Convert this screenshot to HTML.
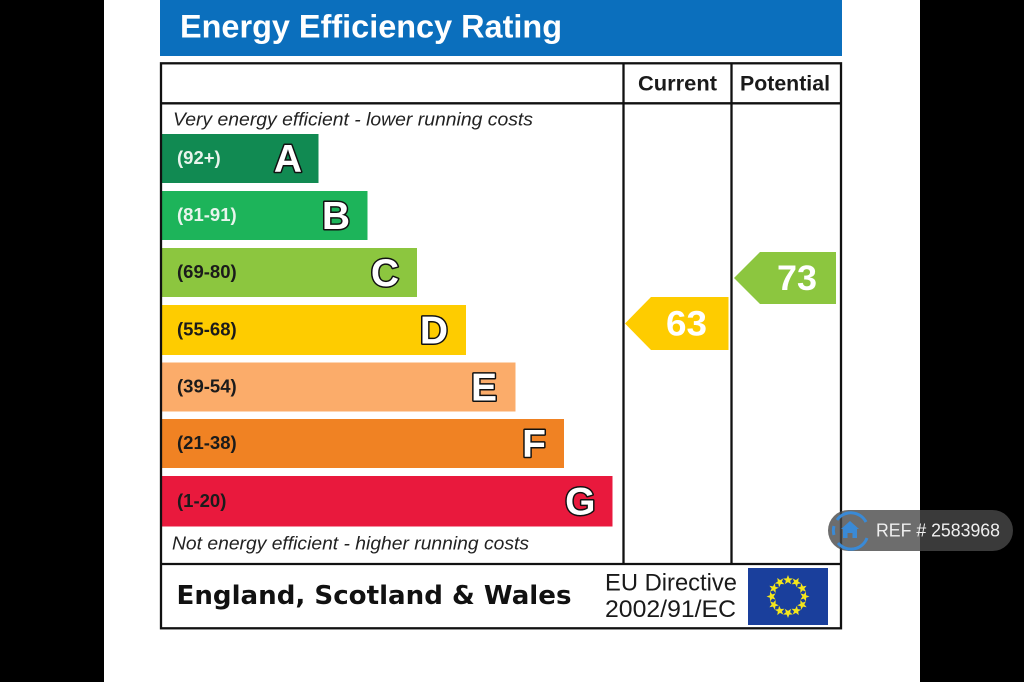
<!DOCTYPE html>
<html>
<head>
<meta charset="utf-8">
<style>
  html, body { margin:0; padding:0; background:#000; }
  body { width:1024px; height:682px; overflow:hidden; }
  svg { display:block; }
</style>
</head>
<body>
<svg width="1024" height="682" viewBox="0 0 1024 682" xmlns="http://www.w3.org/2000/svg">
  <!-- background -->
  <rect x="0" y="0" width="1024" height="682" fill="#000"/>
  <rect x="104" y="0" width="816" height="682" fill="#fff"/>

  <!-- title bar -->
  <rect x="160" y="0" width="682" height="56" fill="#0b6fbd"/>
  <text x="180" y="37.5" font-family="'Liberation Sans', Arial, sans-serif" font-weight="bold" font-size="32" fill="#fff" textLength="382" lengthAdjust="spacingAndGlyphs">Energy Efficiency Rating</text>

  <!-- bars -->
  <g font-family="'Liberation Sans', Arial, sans-serif" font-weight="bold">
    <rect x="162" y="134" width="156.5" height="49" fill="#118a52"/>
    <rect x="162" y="191" width="205.5" height="49" fill="#1db45a"/>
    <rect x="162" y="248" width="255" height="49" fill="#8cc63f"/>
    <rect x="162" y="305" width="304" height="50" fill="#fecc00"/>
    <rect x="162" y="362.5" width="353.5" height="49" fill="#fbac6a"/>
    <rect x="162" y="419" width="402" height="49" fill="#f08223"/>
    <rect x="162" y="476" width="450.5" height="50.5" fill="#e9193d"/>

    <g font-size="18.5">
      <text x="177" y="164" fill="#e8f4ec">(92+)</text>
      <text x="177" y="221" fill="#e8f4ec">(81-91)</text>
      <text x="177" y="278" fill="#1b1b1b">(69-80)</text>
      <text x="177" y="335.5" fill="#1b1b1b">(55-68)</text>
      <text x="177" y="392.5" fill="#1b1b1b">(39-54)</text>
      <text x="177" y="449" fill="#1b1b1b">(21-38)</text>
      <text x="177" y="507" fill="#1b1b1b">(1-20)</text>
    </g>

    <g font-size="39" fill="#fff" stroke="#111" stroke-width="3" paint-order="stroke" text-anchor="end" stroke-linejoin="round">
      <text x="302" y="172">A</text>
      <text x="350" y="229">B</text>
      <text x="399" y="286">C</text>
      <text x="448" y="343.5">D</text>
      <text x="497" y="400.5">E</text>
      <text x="546" y="457">F</text>
      <text x="595.5" y="514.5">G</text>
    </g>
  </g>

  <!-- italic captions -->
  <text x="173" y="125.5" font-family="'Liberation Sans', Arial, sans-serif" font-style="italic" font-size="18.5" fill="#222" textLength="360" lengthAdjust="spacingAndGlyphs">Very energy efficient - lower running costs</text>
  <text x="172" y="549.5" font-family="'Liberation Sans', Arial, sans-serif" font-style="italic" font-size="18.5" fill="#222" textLength="357" lengthAdjust="spacingAndGlyphs">Not energy efficient - higher running costs</text>

  <!-- table lines -->
  <g stroke="#111" fill="none" stroke-width="2.3">
    <rect x="161" y="63.3" width="680" height="565"/>
    <line x1="161" y1="103.3" x2="841" y2="103.3"/>
    <line x1="161" y1="564" x2="841" y2="564"/>
    <line x1="623.5" y1="63.3" x2="623.5" y2="564"/>
    <line x1="731.5" y1="63.3" x2="731.5" y2="564"/>
  </g>

  <!-- headers -->
  <g font-family="'Liberation Sans', Arial, sans-serif" font-weight="bold" font-size="21" fill="#1a1a1a">
    <text x="638" y="90.7" textLength="79" lengthAdjust="spacingAndGlyphs">Current</text>
    <text x="740" y="90.7" textLength="90" lengthAdjust="spacingAndGlyphs">Potential</text>
  </g>

  <!-- arrows -->
  <polygon points="625,323.5 651,297 728.5,297 728.5,350 651,350" fill="#fecc00"/>
  <polygon points="734,278 760,252 836,252 836,304 760,304" fill="#8cc63f"/>
  <g font-family="'Liberation Sans', Arial, sans-serif" font-weight="bold" font-size="35" fill="#fff">
    <text x="666" y="335.5" textLength="41" lengthAdjust="spacingAndGlyphs">63</text>
    <text x="777" y="290" textLength="40" lengthAdjust="spacingAndGlyphs">73</text>
  </g>

  <!-- footer -->
  <text x="176.5" y="604" font-family="'DejaVu Sans', Verdana, sans-serif" font-weight="bold" font-size="26" fill="#111" textLength="395" lengthAdjust="spacingAndGlyphs">England, Scotland &amp; Wales</text>
  <g font-family="'Liberation Sans', Arial, sans-serif" font-size="24" fill="#1a1a1a">
    <text x="605" y="590.5" textLength="132" lengthAdjust="spacingAndGlyphs">EU Directive</text>
    <text x="605" y="617" textLength="131" lengthAdjust="spacingAndGlyphs">2002/91/EC</text>
  </g>
  <rect x="748" y="568" width="80" height="57" fill="#1a3f9c"/>
  <g fill="#f3e51c">
    <g transform="translate(788,596.5)">
      <polygon id="st" points="0,-21.5 1.3,-18.1 4.9,-18 2.1,-15.8 3.1,-12.4 0,-14.4 -3.1,-12.4 -2.1,-15.8 -4.9,-18 -1.3,-18.1"/>
      <use href="#st" transform="rotate(30)"/>
      <use href="#st" transform="rotate(60)"/>
      <use href="#st" transform="rotate(90)"/>
      <use href="#st" transform="rotate(120)"/>
      <use href="#st" transform="rotate(150)"/>
      <use href="#st" transform="rotate(180)"/>
      <use href="#st" transform="rotate(210)"/>
      <use href="#st" transform="rotate(240)"/>
      <use href="#st" transform="rotate(270)"/>
      <use href="#st" transform="rotate(300)"/>
      <use href="#st" transform="rotate(330)"/>
    </g>
  </g>

  <!-- REF badge -->
  <rect x="828" y="510" width="185" height="41" rx="20.5" ry="20.5" fill="rgba(72,72,72,0.8)"/>
  <g fill="none" stroke="#3a8ad6" stroke-width="3">
    <path d="M 837 520 A 17 17 0 0 1 866 522"/>
    <path d="M 867 538 A 17 17 0 0 1 838 543"/>
    <path d="M 834 535 A 17 17 0 0 1 834 526"/>
  </g>
  <path d="M 850 521 L 859 529 L 857 529 L 857 538 L 852.5 538 L 852.5 533 L 847.5 533 L 847.5 538 L 843 538 L 843 529 L 841 529 Z" fill="#3a8ad6"/>
  <text x="876" y="536.5" font-family="'Liberation Sans', Arial, sans-serif" font-size="18" fill="#efefef" textLength="124" lengthAdjust="spacingAndGlyphs">REF # 2583968</text>
</svg>
</body>
</html>
